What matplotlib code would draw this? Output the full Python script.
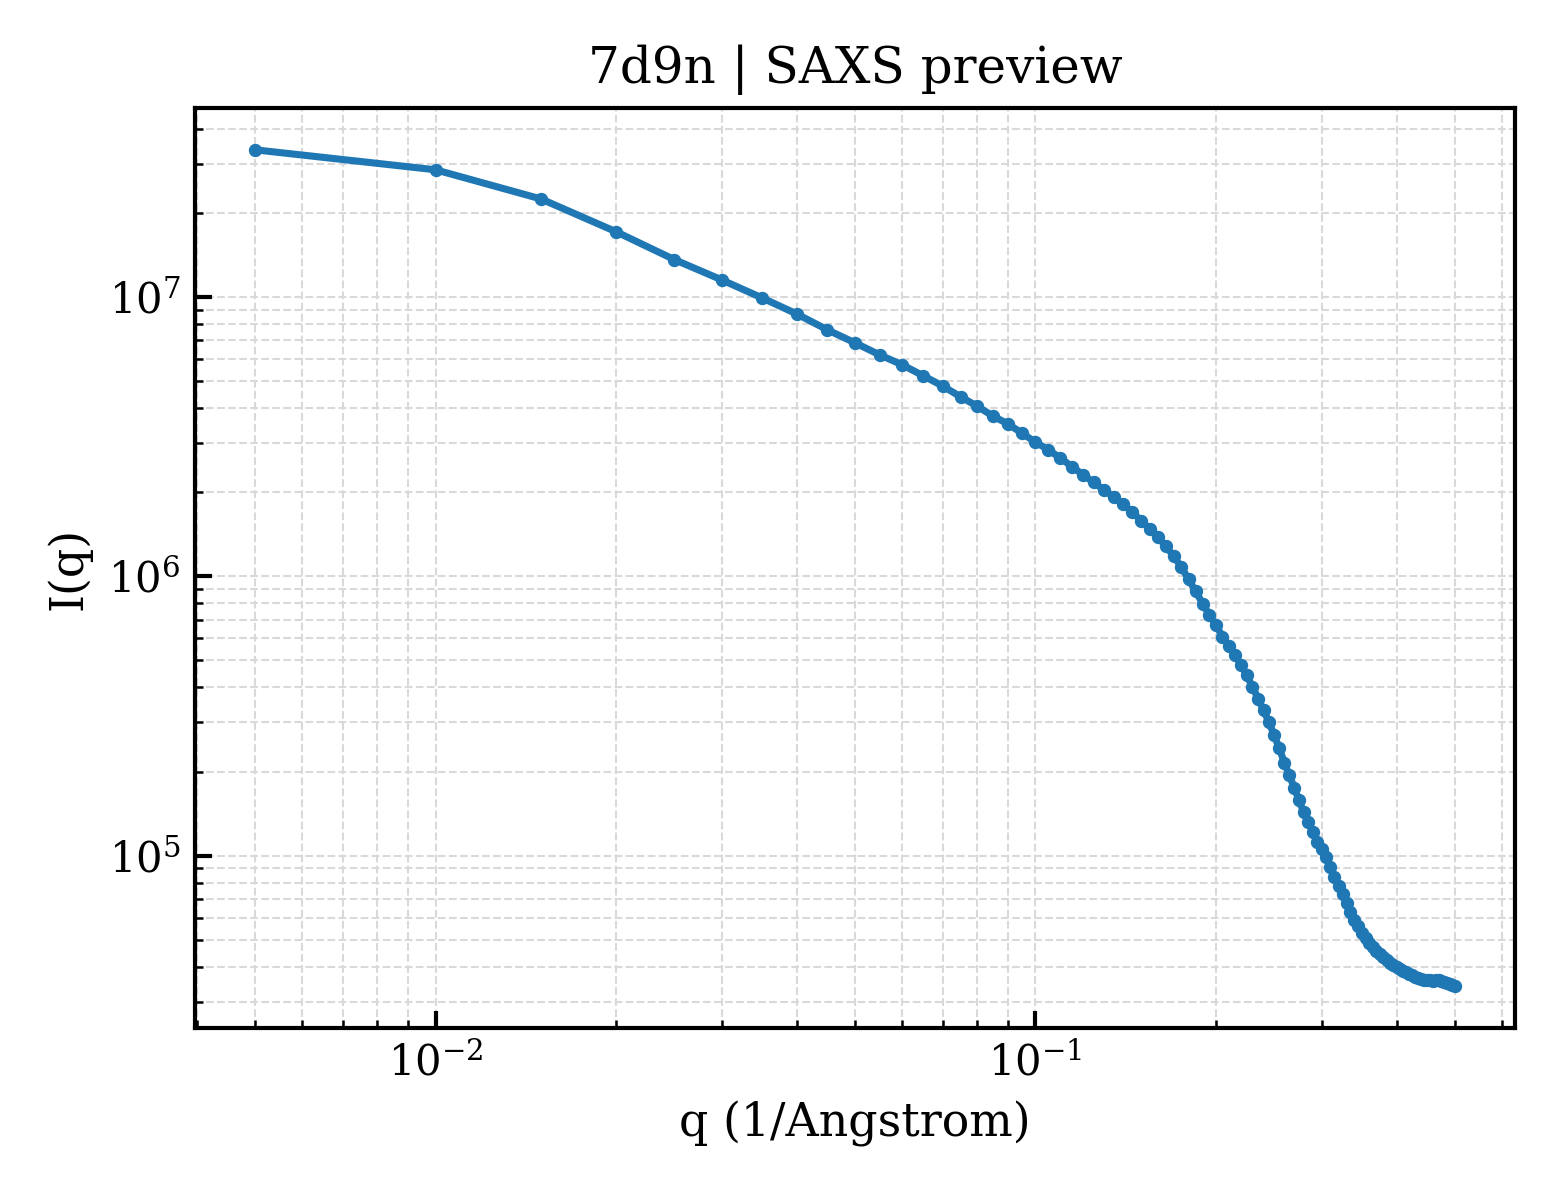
import numpy as np
import matplotlib
matplotlib.use("Agg")
import matplotlib.pyplot as plt

plt.rcParams['font.family'] = 'DejaVu Serif'
plt.rcParams['mathtext.fontset'] = 'dejavuserif'
plt.rcParams['axes.linewidth'] = 1.0

TITLE = '7d9n | SAXS preview'

# scattering vector, 1/Angstrom
q = [0.005, 0.010, 0.015, 0.020, 0.025, 0.030, 0.035, 0.040, 0.045, 0.050,
     0.055, 0.060, 0.065, 0.070, 0.075, 0.080, 0.085, 0.090, 0.095, 0.100,
     0.105, 0.110, 0.115, 0.120, 0.125, 0.130, 0.135, 0.140, 0.145, 0.150,
     0.155, 0.160, 0.165, 0.170, 0.175, 0.180, 0.185, 0.190, 0.195, 0.200,
     0.205, 0.210, 0.215, 0.220, 0.225, 0.230, 0.235, 0.240, 0.245, 0.250,
     0.255, 0.260, 0.265, 0.270, 0.275, 0.280, 0.285, 0.290, 0.295, 0.300,
     0.305, 0.310, 0.315, 0.320, 0.325, 0.330, 0.335, 0.340, 0.345, 0.350,
     0.355, 0.360, 0.365, 0.370, 0.375, 0.380, 0.385, 0.390, 0.395, 0.400,
     0.405, 0.410, 0.415, 0.420, 0.425, 0.430, 0.435, 0.440, 0.445, 0.450,
     0.455, 0.460, 0.465, 0.470, 0.475, 0.480, 0.485, 0.490, 0.495, 0.500]

# intensity
I = [3.36e7, 2.85e7, 2.24e7, 1.71e7, 1.36e7, 1.15e7, 9.92e6, 8.69e6, 7.62e6, 6.85e6,
     6.20e6, 5.71e6, 5.22e6, 4.80e6, 4.39e6, 4.06e6, 3.74e6, 3.51e6, 3.25e6, 3.02e6,
     2.84e6, 2.65e6, 2.47e6, 2.31e6, 2.17e6, 2.04e6, 1.92e6, 1.81e6, 1.70e6, 1.58e6,
     1.48e6, 1.38e6, 1.28e6, 1.18e6, 1.08e6, 9.75e5, 8.83e5, 7.98e5, 7.25e5, 6.67e5,
     6.08e5, 5.65e5, 5.24e5, 4.82e5, 4.42e5, 4.02e5, 3.65e5, 3.31e5, 3.01e5, 2.70e5,
     2.42e5, 2.15e5, 1.94e5, 1.75e5, 1.58e5, 1.43e5, 1.32e5, 1.22e5, 1.12e5, 1.06e5,
     9.92e4, 9.13e4, 8.41e4, 7.81e4, 7.31e4, 6.79e4, 6.30e4, 5.90e4, 5.62e4, 5.30e4,
     5.09e4, 4.88e4, 4.73e4, 4.57e4, 4.46e4, 4.33e4, 4.23e4, 4.14e4, 4.07e4, 4.01e4,
     3.93e4, 3.88e4, 3.83e4, 3.77e4, 3.74e4, 3.69e4, 3.65e4, 3.62e4, 3.60e4, 3.59e4,
     3.58e4, 3.57e4, 3.59e4, 3.59e4, 3.57e4, 3.54e4, 3.50e4, 3.47e4, 3.44e4, 3.41e4]

fig, ax = plt.subplots(figsize=(5.2, 4.0), dpi=300)
fig.subplots_adjust(left=0.125, right=0.971, bottom=0.1433, top=0.91)

ax.plot(q, I, '-o', color='#1f77b4', lw=1.7, ms=2.2)
ax.set_xscale('log')
ax.set_yscale('log')

ax.grid(True, which='both', ls='--', lw=0.5, color='0.85')
ax.tick_params(which='both', direction='in', labelsize=10)
ax.tick_params(which='major', length=4, width=1.0)

ax.set_xlabel('q (1/Angstrom)', fontsize=11)
ax.set_ylabel('I(q)', fontsize=11)
ax.set_title(TITLE, fontsize=12)

fig.savefig('out.png', dpi=300)
